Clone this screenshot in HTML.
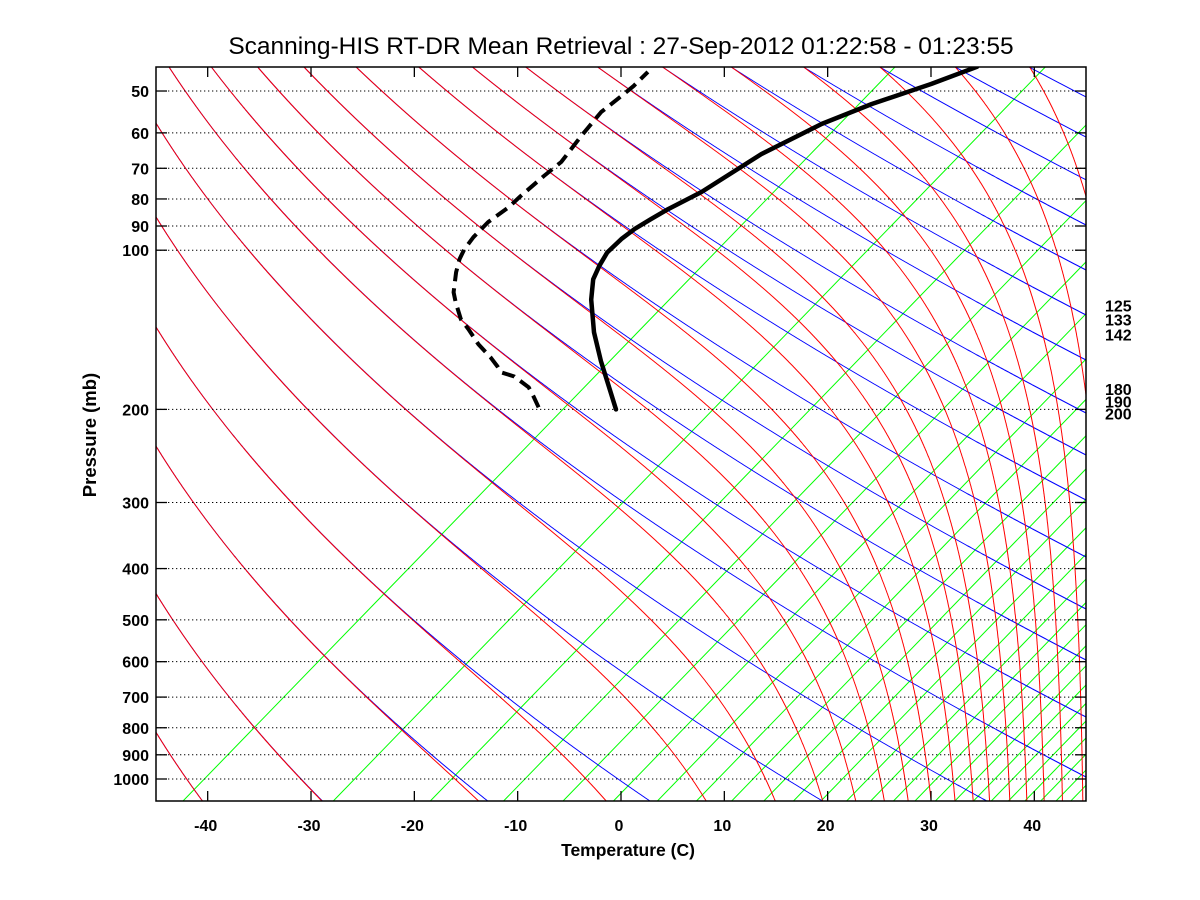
<!DOCTYPE html>
<html><head><meta charset="utf-8"><style>
html,body{margin:0;padding:0;background:#fff;}
svg{display:block;font-family:"Liberation Sans",Arial,sans-serif;}
</style></head><body>
<svg id="chart" width="1200" height="900" viewBox="0 0 1200 900" xmlns="http://www.w3.org/2000/svg">
<defs><clipPath id="plotclip"><rect x="156" y="67" width="930" height="734"/></clipPath></defs>
<rect x="0" y="0" width="1200" height="900" fill="#fff"/>
<text x="621" y="54" text-anchor="middle" font-size="24.5">Scanning-HIS RT-DR Mean Retrieval : 27-Sep-2012 01:22:58 - 01:23:55</text>
<g id="bg" clip-path="url(#plotclip)"></g>
<g id="grid"></g>
<g id="snd" clip-path="url(#plotclip)"></g>
<rect x="156" y="67" width="930" height="734" fill="none" stroke="#000" stroke-width="1.5"/>
<g id="axes"></g>
<text x="628" y="856" text-anchor="middle" font-size="17.5" font-weight="bold">Temperature (C)</text>
<text x="0" y="0" transform="translate(96,435) rotate(-90)" text-anchor="middle" font-size="18.5" font-weight="bold">Pressure (mb)</text>
</svg>
<script>
// ---- data ----
const tempTicks = [-40,-30,-20,-10,0,10,20,30,40];
const pressTicks = [50,60,70,80,90,100,200,300,400,500,600,700,800,900,1000];
const levelLabels = [125,133,142,180,190,200];
const tempP = [200,162,143,124,113.5,107,101,95.3,91.2,87.4,83.6,77.6,65.8,57.7,52.9,48.5,45];
const tempT = [-55.0,-63.6,-68.5,-73.6,-76.4,-77.8,-79.0,-79.6,-79.8,-79.7,-79.5,-78.8,-78.6,-77.2,-75.3,-72.5,-70.6];
const dewP = [198.2,189.0,181.7,173.3,170.2,165.9,159.5,150.7,141.1,135.1,125.5,120.1,110.1,104.0,99.6,94.5,88.5,82.9,79.0,72.4,68.1,60.8,54.8,51.1,48.9,46.0];
const dewT = [-62.8,-64.9,-66.7,-69.7,-71.6,-72.8,-74.8,-77.9,-81.1,-83.3,-86.3,-88.0,-90.7,-92.3,-93.3,-94.2,-95.0,-95.2,-95.7,-96.4,-96.8,-98.7,-100.3,-100.7,-101.0,-101.7];
// dry adiabats: temperature where they meet the bottom edge, and pressure where they meet the right edge
const dryBaseT = [-40.5,-28.9,-12.9,2.8,19.5,35.4];
const dryEdgeP = [51.3,61.1,73.6,89.6,109.0,132.6,161.3,203.2,243.9,296.8,380.3,477.0,595.6,763.3,991.3];
const mixingIds = [1,2,3,4,5,6,7,8,9,10,11,12,13,14,15,16,17,18,19,20,21,22,23,24,25,26];

// ---- axes functions ----
const XL=156, XR=1086, YT=67, YB=801;
function xT(t){ return 621 + t*10.333; }
function yP(p){ return 779 + 528.8*Math.log10(p/1000); }
function xSk(t,p){ return xT(t + 78*Math.log10(1000/p)); }
const NS='http://www.w3.org/2000/svg';
function mk(tag, parent, attrs){ const e=document.createElementNS(NS,tag); for(const k in attrs) e.setAttribute(k,attrs[k]); parent.appendChild(e); return e; }

const bg=document.getElementById('bg');
for(const n of mixingIds){
  const xb = -948 + 1131*Math.pow(n,0.18);
  if(xb > XR) continue;
  const l = mk('line', bg, {x1:xb, y1:YB, x2:xb+0.97*(YB-YT), y2:YT, stroke:'#00ff00','stroke-width':1});
  
  
}
function dryG(x){ return 0.06*Math.sqrt(Math.max(4,x-51)); }
function traceUp(x,y){
  const pts=[[x,y]];
  while(y>YT-2 && x>XL-60){ x-=dryG(x)*0.5; y-=0.5; pts.push([x,y]); }
  return pts;
}
function traceMoistDown(x,y){
  const pts=[[x,y]];
  while(y<YB+2 && x<XR+10){
    const w=x-0.4*(800-y); const d=Math.max(0,w-200)/520;
    x+=dryG(x)*Math.exp(-d*d*d)*0.5; y+=0.5; pts.push([x,y]);
  }
  return pts;
}
function str(pts){ return pts.filter((p,i)=>i%2===0||i===pts.length-1).map(p=>p[0].toFixed(1)+','+p[1].toFixed(1)).join(' '); }
function addLine(pts, color, name){
  const e = mk('polyline', bg, {points:str(pts), fill:'none', stroke:color,'stroke-width':1});
  
  
}
const dryLines = [];
for(const t of dryBaseT) dryLines.push(traceUp(xT(t),YB));
for(const p of dryEdgeP) dryLines.push(traceUp(XR,yP(p)));
for(const pts of dryLines) addLine(pts,'#0000ff','dry-adiabat');
for(const pts of dryLines){
  let s=pts[pts.length-1];
  for(let i=pts.length-1;i>=0;i--){ if(pts[i][0]>=XL && pts[i][1]>=YT){ s=pts[i]; break; } }
  addLine(traceMoistDown(s[0],s[1]),'#ff0000','moist-adiabat');
}

const grid=document.getElementById('grid'), axes=document.getElementById('axes');
for(const p of pressTicks){
  const y=yP(p);
  const gl=mk('line',grid,{x1:XL,y1:y,x2:XR,y2:y,stroke:'#000','stroke-width':1,'stroke-dasharray':'1.3 2.7'});
  
  
  const t1=mk('line',axes,{x1:XL,y1:y,x2:XL+11,y2:y,stroke:'#000','stroke-width':1.3});
  
  
  const t2=mk('line',axes,{x1:XR-11,y1:y,x2:XR,y2:y,stroke:'#000','stroke-width':1.3});
  
  
  const lb=mk('text',axes,{x:149,y:y+6,'text-anchor':'end','font-size':16,'font-weight':'bold'});
  lb.textContent=p;
  
  
}
for(const t of tempTicks){
  const x=xT(t);
  const a=mk('line',axes,{x1:x,y1:YB,x2:x,y2:YB-10,stroke:'#000','stroke-width':1.3});
  
  
  const b=mk('line',axes,{x1:x,y1:YT,x2:x,y2:YT+10,stroke:'#000','stroke-width':1.3});
  
  
  const lb=mk('text',axes,{x:x-2,y:831,'text-anchor':'middle','font-size':16,'font-weight':'bold'});
  lb.textContent=t;
  
  
}
for(const p of levelLabels){
  const lb=mk('text',axes,{x:1105,y:yP(p)+10,'font-size':16,'font-weight':'bold'});
  lb.textContent=p;
  
  
}
const snd=document.getElementById('snd');
const tp=tempP.map((p,i)=>xSk(tempT[i],p).toFixed(1)+','+yP(p).toFixed(1)).join(' ');
const tl=mk('polyline',snd,{points:tp,fill:'none',stroke:'#000','stroke-width':4.5,'stroke-linejoin':'round','stroke-linecap':'round'});


const dp=dewP.map((p,i)=>xSk(dewT[i],p).toFixed(1)+','+yP(p).toFixed(1)).join(' ');
const dl=mk('polyline',snd,{points:dp,fill:'none',stroke:'#000','stroke-width':4,'stroke-dasharray':'13 7','stroke-linejoin':'round'});


</script>
</body></html>
